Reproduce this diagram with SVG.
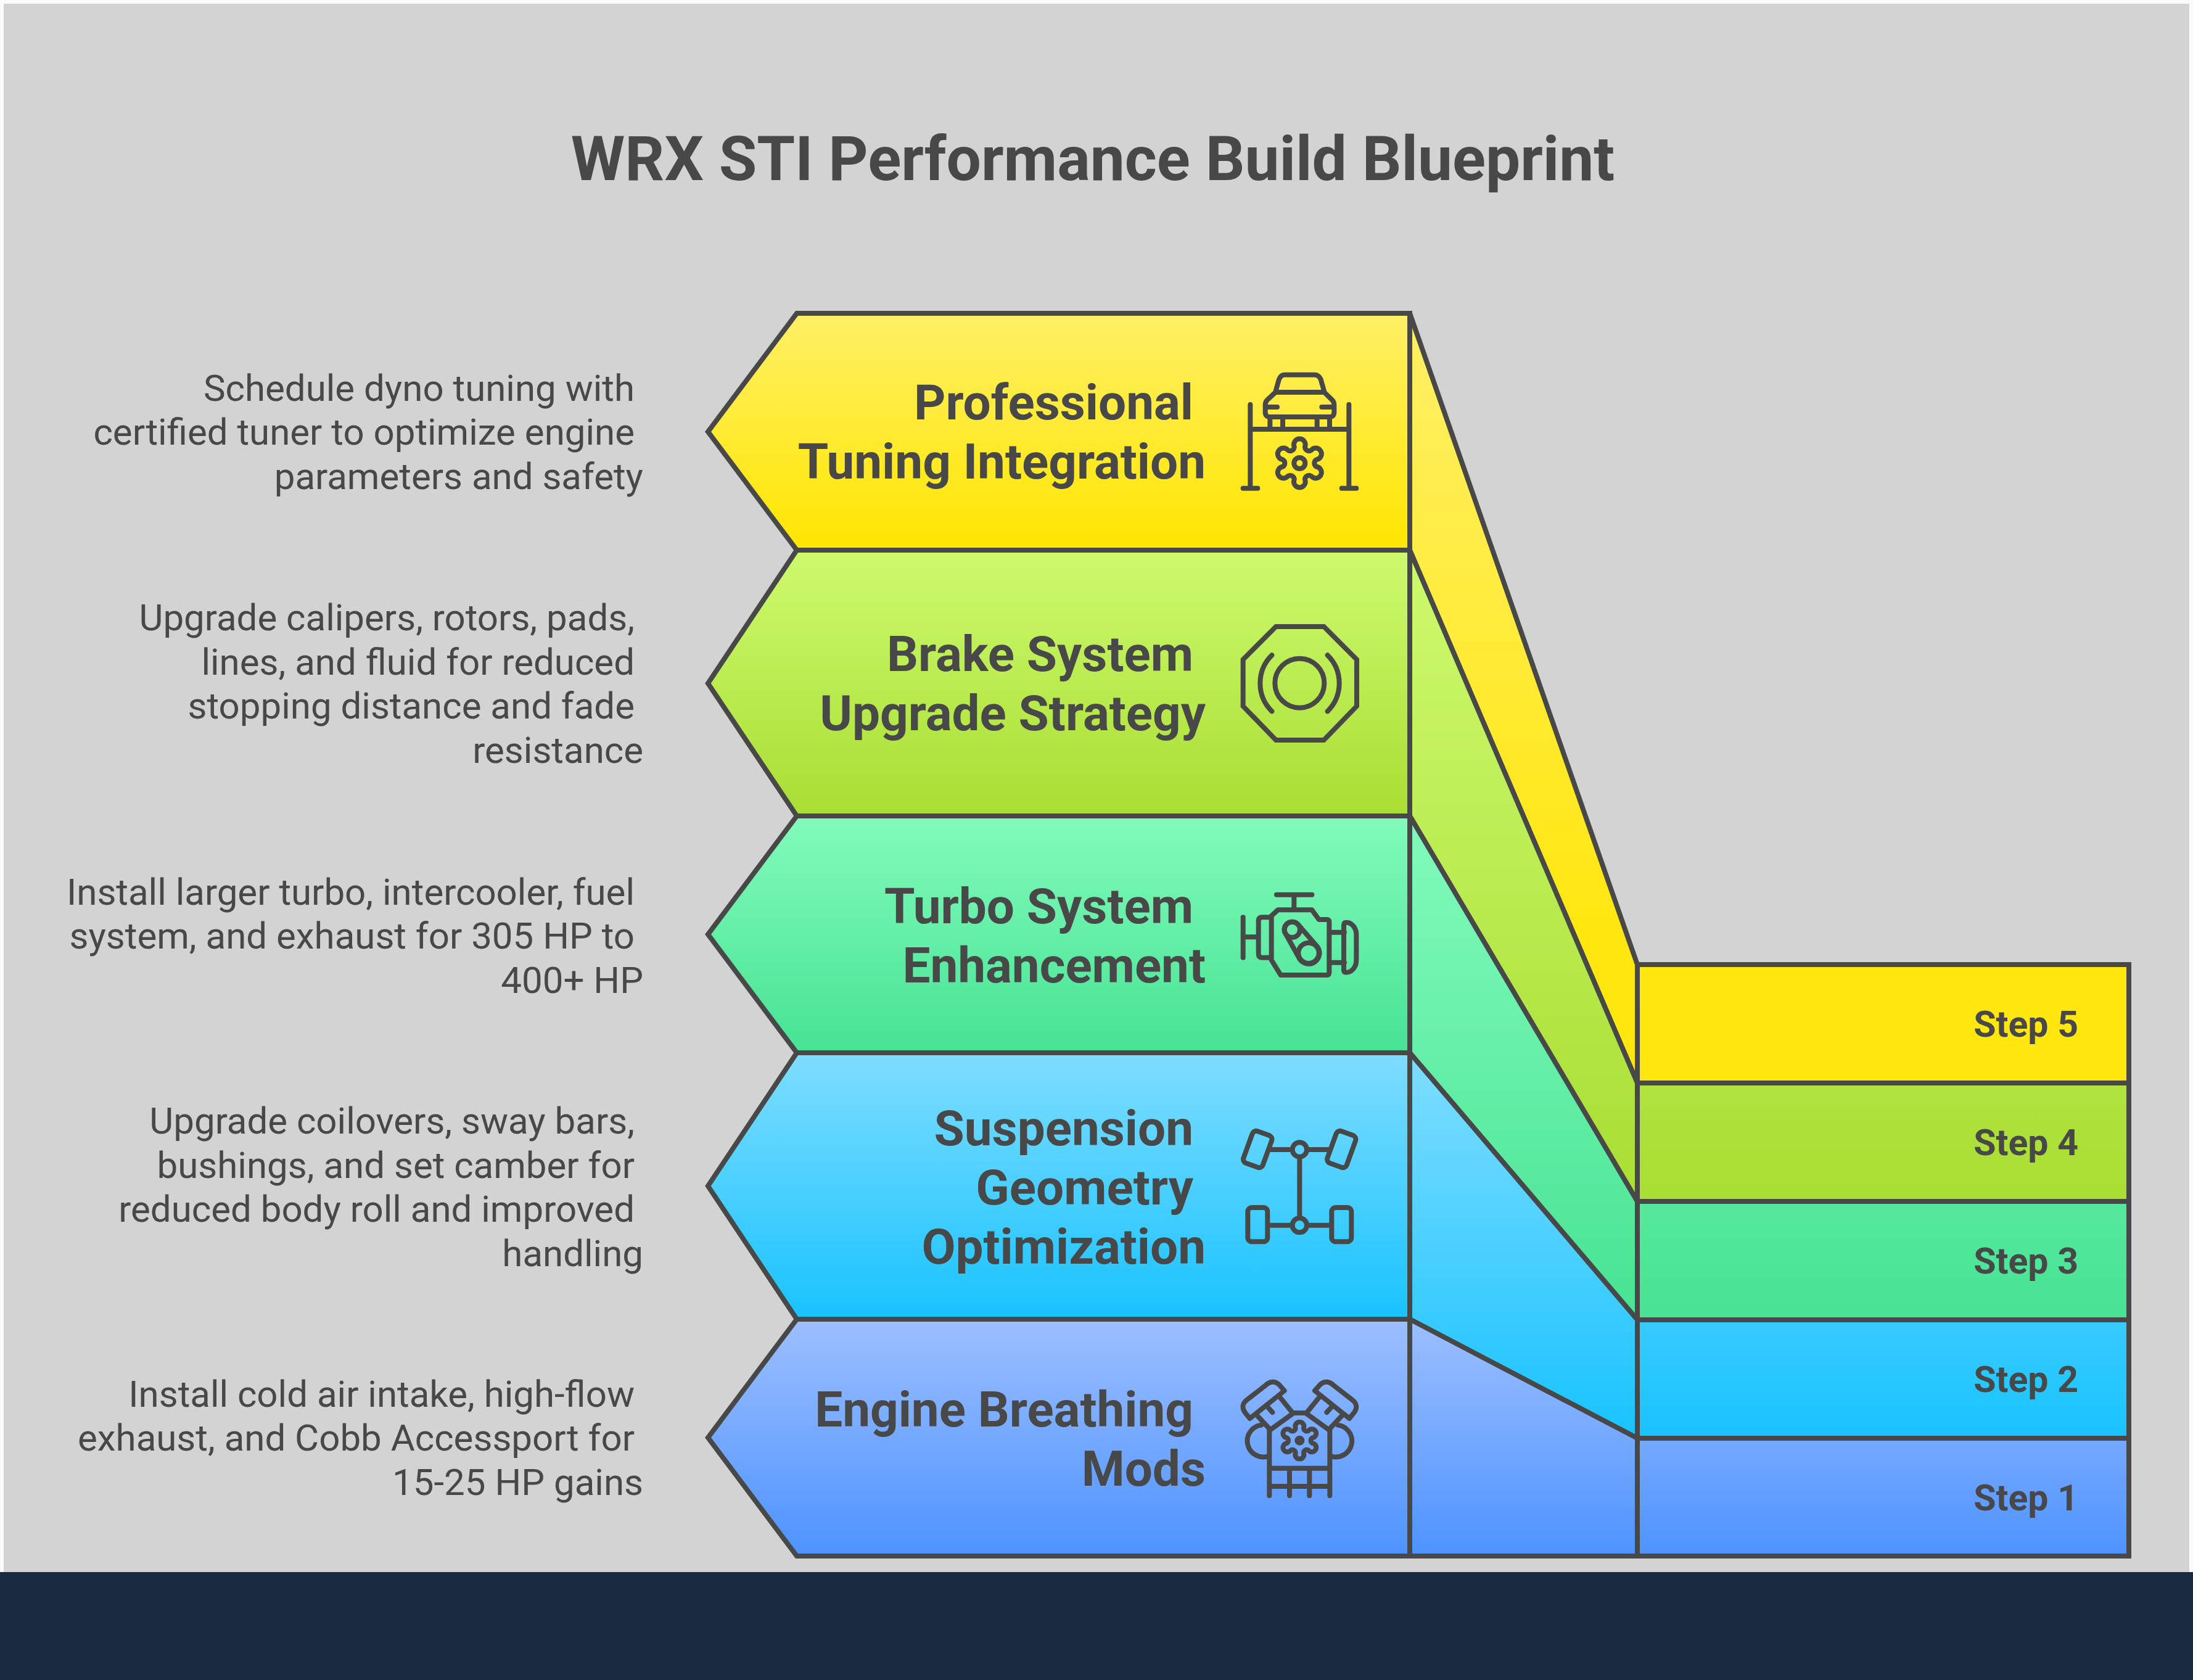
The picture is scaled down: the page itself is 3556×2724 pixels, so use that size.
<svg xmlns="http://www.w3.org/2000/svg" width="3556" height="2724" viewBox="0 0 3556 2724">
<style>
text{font-family:Roboto,"Liberation Sans",sans-serif;fill:#484848;text-anchor:end}
.title{font-size:100px;font-weight:700;text-anchor:middle}
.lab{font-size:80px;font-weight:700}
.desc{font-size:60px;font-weight:400}
.step{font-size:59px;font-weight:700}
.s{stroke:#484848;stroke-width:8;stroke-linejoin:miter}
.i{fill:none;stroke:#484848;stroke-width:24;stroke-linecap:round;stroke-linejoin:round}
</style>
<defs>
<linearGradient id="h5" x1="0" y1="0" x2="0" y2="1"><stop offset="0" stop-color="#FFF066"/><stop offset="1" stop-color="#FFE600"/></linearGradient>
<linearGradient id="h4" x1="0" y1="0" x2="0" y2="1"><stop offset="0" stop-color="#CDFA6E"/><stop offset="1" stop-color="#A9DE33"/></linearGradient>
<linearGradient id="h3" x1="0" y1="0" x2="0" y2="1"><stop offset="0" stop-color="#82FBBB"/><stop offset="1" stop-color="#47E394"/></linearGradient>
<linearGradient id="h2" x1="0" y1="0" x2="0" y2="1"><stop offset="0" stop-color="#7FDDFF"/><stop offset="1" stop-color="#18C3FF"/></linearGradient>
<linearGradient id="h1" x1="0" y1="0" x2="0" y2="1"><stop offset="0" stop-color="#9DBFFF"/><stop offset="1" stop-color="#4D93FF"/></linearGradient>
<linearGradient id="b5" gradientUnits="userSpaceOnUse" x1="0" y1="508" x2="0" y2="1756"><stop offset="0" stop-color="#FFF066"/><stop offset=".8" stop-color="#FFE710"/><stop offset="1" stop-color="#FFE70E"/></linearGradient>
<linearGradient id="b4" href="#h4" gradientUnits="userSpaceOnUse" x1="0" y1="892" x2="0" y2="1948"/>
<linearGradient id="b3" href="#h3" gradientUnits="userSpaceOnUse" x1="0" y1="1323" x2="0" y2="2140"/>
<linearGradient id="b2" href="#h2" gradientUnits="userSpaceOnUse" x1="0" y1="1707" x2="0" y2="2332"/>
<linearGradient id="b1" href="#h1" gradientUnits="userSpaceOnUse" x1="0" y1="2139" x2="0" y2="2523"/>
<path id="gear" d="M-26 -80A28 28 0 1 1 26 -80A20 20 0 0 0 56.3 -62.5A28 28 0 1 1 82.3 -17.5A20 20 0 0 0 82.3 17.5A28 28 0 1 1 56.3 62.5A20 20 0 0 0 26 80A28 28 0 1 1 -26 80A20 20 0 0 0 -56.3 62.5A28 28 0 1 1 -82.3 17.5A20 20 0 0 0 -82.3 -17.5A28 28 0 1 1 -56.3 -62.5A20 20 0 0 0 -26 -80Z"/>
</defs>
<rect width="3556" height="2724" fill="#fbfbfb"/>
<rect id="background" x="6" y="6" width="3544" height="2560" fill="#D3D3D3"/>
<text class="title" x="1772" y="292">WRX STI Performance Build Blueprint</text>

<g id="connectors">
<path class="s" fill="url(#b5)" d="M2286 508L2655 1564V1756L2286 892Z"/>
<path class="s" fill="url(#b4)" d="M2286 892L2655 1756V1948L2286 1323Z"/>
<path class="s" fill="url(#b3)" d="M2286 1323L2655 1948V2140L2286 1707Z"/>
<path class="s" fill="url(#b2)" d="M2286 1707L2655 2140V2332L2286 2139Z"/>
<path class="s" fill="url(#b1)" d="M2286 2139L2655 2332V2523H2286Z"/>
</g>

<g id="step-5"><rect class="s" fill="url(#b5)" x="2655" y="1564" width="797" height="192"/><text class="step" x="3370" y="1681">Step 5</text></g>
<g id="step-4"><rect class="s" fill="url(#b4)" x="2655" y="1756" width="797" height="192"/><text class="step" x="3370" y="1873">Step 4</text></g>
<g id="step-3"><rect class="s" fill="url(#b3)" x="2655" y="1948" width="797" height="192"/><text class="step" x="3370" y="2065">Step 3</text></g>
<g id="step-2"><rect class="s" fill="url(#b2)" x="2655" y="2140" width="797" height="192"/><text class="step" x="3370" y="2257">Step 2</text></g>
<g id="step-1"><rect class="s" fill="url(#b1)" x="2655" y="2332" width="797" height="191"/><text class="step" x="3370" y="2449">Step 1</text></g>

<g id="node-tuning">
<path class="s" fill="url(#h5)" d="M1292 508H2286V892H1292L1148 700Z"/>
<text class="lab" x="1935" y="680">Professional</text>
<text class="lab" x="1955" y="776">Tuning Integration</text>
<g class="i" transform="translate(1950 560) scale(.3333)">
<path d="M355 225L372 165Q380 143 400 143H545Q565 143 575 165L592 225M355 228H592M355 228L315 265Q305 275 305 290V325Q305 348 330 348H615Q640 348 640 325V290Q640 275 630 265L592 228M305 300H363M640 300H580M328 348V408M390 348V408M557 348V408M618 348V408M232 288V695M712 288V695M232 408H712M197 695H268M677 695H748"/>
<use href="#gear" transform="translate(472 573)"/>
<circle cx="472" cy="573" r="27"/>
</g>
<text class="desc" x="1029" y="650">Schedule dyno tuning with</text>
<text class="desc" x="1029" y="721">certified tuner to optimize engine</text>
<text class="desc" x="1043" y="793">parameters and safety</text>
</g>

<g id="node-brake">
<path class="s" fill="url(#h4)" d="M1292 892H2286V1323H1292L1148 1108Z"/>
<text class="lab" x="1935" y="1088">Brake System</text>
<text class="lab" x="1955" y="1184">Upgrade Strategy</text>
<g class="i" transform="translate(1950 980) scale(.3333)">
<path style="stroke-linejoin:miter" d="M357 108H590L750 268V495L590 660H357L197 495V268Z"/>
<circle cx="472" cy="383" r="120"/>
<path d="M337 247A192 192 0 0 0 337 520M608 247A192 192 0 0 1 608 520"/>
</g>
<text class="desc" x="1029" y="1022">Upgrade calipers, rotors, pads,</text>
<text class="desc" x="1029" y="1094">lines, and fluid for reduced</text>
<text class="desc" x="1029" y="1165">stopping distance and fade</text>
<text class="desc" x="1043" y="1237">resistance</text>
</g>

<g id="node-turbo">
<path class="s" fill="url(#h3)" d="M1292 1323H2286V1707H1292L1148 1515Z"/>
<text class="lab" x="1935" y="1497">Turbo System</text>
<text class="lab" x="1955" y="1593">Enhancement</text>
<g class="i" transform="translate(1950 1400) scale(.3333)">
<path d="M360 152H532M445 152V225M335 255L367 226H532L566 273H604Q616 273 616 285V530Q616 543 604 543H380L335 470ZM335 262H290Q272 262 272 280V440Q272 458 290 458H335M197 262V458M197 358H272M617 335H690M617 482H690M687 300Q687 287 700 287C730 287 748 320 748 345V470C748 505 725 530 700 530Q687 530 687 520Z"/>
<path d="M467 300L559 406A52 52 0 1 1 473 466L405 344A38 38 0 1 1 467 300Z"/>
<circle cx="436" cy="322" r="38"/>
<circle cx="516" cy="436" r="50"/>
</g>
<text class="desc" x="1029" y="1467">Install larger turbo, intercooler, fuel</text>
<text class="desc" x="1029" y="1538">system, and exhaust for 305 HP to</text>
<text class="desc" x="1043" y="1610">400+ HP</text>
</g>

<g id="node-suspension">
<path class="s" fill="url(#h2)" d="M1292 1707H2286V2139H1292L1148 1923Z"/>
<text class="lab" x="1935" y="1857">Suspension</text>
<text class="lab" x="1935" y="1953">Geometry</text>
<text class="lab" x="1955" y="2049">Optimization</text>
<g class="i" transform="translate(1950 1790) scale(.3333)">
<rect x="218" y="138" width="100" height="165" rx="20" transform="rotate(20 268 220)"/>
<rect x="626" y="138" width="100" height="165" rx="20" transform="rotate(20 676 220)"/>
<rect x="220" y="504" width="96" height="166" rx="20"/>
<rect x="628" y="504" width="96" height="166" rx="20"/>
<circle cx="472" cy="222" r="35"/>
<circle cx="472" cy="590" r="35"/>
<path d="M325 222H430M515 222H620M472 258V555M325 590H430M515 590H625"/>
</g>
<text class="desc" x="1029" y="1838">Upgrade coilovers, sway bars,</text>
<text class="desc" x="1029" y="1910">bushings, and set camber for</text>
<text class="desc" x="1029" y="1981">reduced body roll and improved</text>
<text class="desc" x="1043" y="2053">handling</text>
</g>

<g id="node-engine">
<path class="s" fill="url(#h1)" d="M1292 2139H2286V2523H1292L1148 2331Z"/>
<text class="lab" x="1935" y="2313">Engine Breathing</text>
<text class="lab" x="1955" y="2409">Mods</text>
<g class="i" transform="translate(1950 2190) scale(.3333)">
<path d="M230 330L206 300C190 278 195 255 215 240L305 170C325 150 350 145 372 165L398 195ZM262 312L330 385M375 225L440 305M330 385L440 305M440 303H505M320 278L340 300"/>
<path d="M714 330L738 300C754 278 749 255 729 240L639 170C619 150 594 145 572 165L546 195ZM682 312L614 385M569 225L504 305M614 385L504 305M624 278L604 300"/>
<path d="M325 385V705M619 385V705M325 572H619M325 660H619M423 572V705M520 572V705"/>
<path d="M285 362A78 78 0 1 0 318 514M659 362A78 78 0 1 1 626 514"/>
<use href="#gear" transform="translate(472 437) scale(.76)" style="stroke-width:31"/>
<circle cx="472" cy="437" r="12"/>
</g>
<text class="desc" x="1029" y="2281">Install cold air intake, high-flow</text>
<text class="desc" x="1029" y="2352">exhaust, and Cobb Accessport for</text>
<text class="desc" x="1043" y="2424">15-25 HP gains</text>
</g>

<rect id="footer-band" x="0" y="2549" width="3556" height="175" fill="#1A2A40"/>
</svg>
